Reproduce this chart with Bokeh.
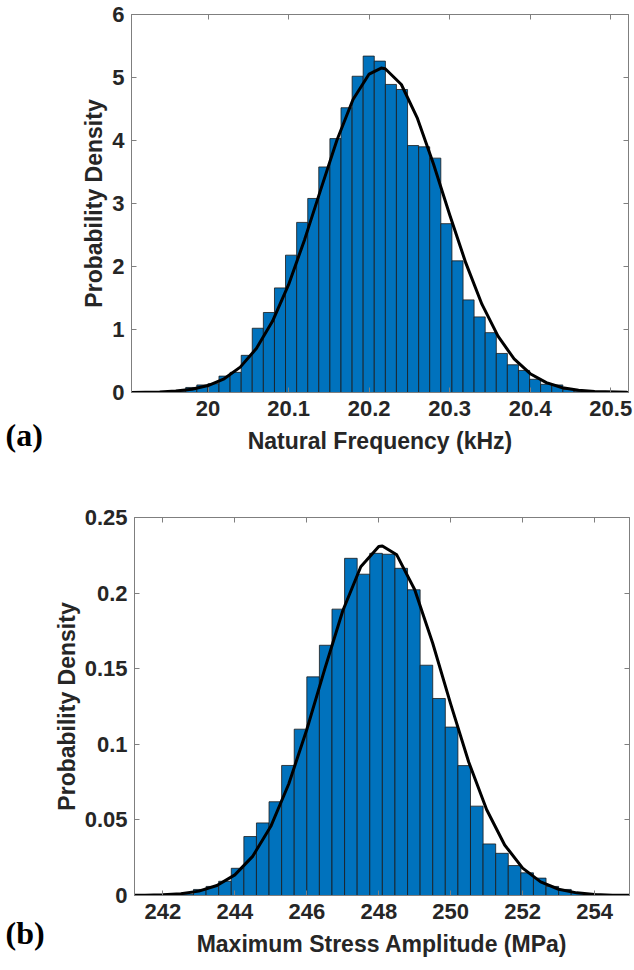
from bokeh.plotting import figure
from bokeh.layouts import column, row
from bokeh.models import Range1d, LinearAxis, FixedTicker, NumeralTickFormatter, Title
from bokeh.embed import file_html
from bokeh.resources import INLINE

# ---------------- Panel (a): natural frequency ----------------
freq_edges = [19.9585, 19.9723, 19.9861, 19.9998, 20.0136, 20.0274, 20.0412, 20.0549,
              20.0687, 20.0825, 20.0962, 20.1100, 20.1238, 20.1375, 20.1513, 20.1651,
              20.1789, 20.1926, 20.2064, 20.2202, 20.2339, 20.2477, 20.2615, 20.2752,
              20.2890, 20.3028, 20.3166, 20.3303, 20.3441, 20.3579, 20.3716, 20.3854,
              20.3992, 20.4129, 20.4267, 20.4405, 20.4543, 20.4680]
freq_density = [0.02, 0.08, 0.12, 0.14, 0.26, 0.32, 0.59, 1.02, 1.27, 1.66, 2.18, 2.70,
                3.08, 3.58, 4.03, 4.52, 5.02, 5.34, 5.26, 4.89, 4.81, 3.92, 3.90, 3.72,
                2.68, 2.09, 1.47, 1.20, 0.95, 0.62, 0.44, 0.35, 0.21, 0.13, 0.12, 0.05, 0.02]
freq_fit_x = [19.90, 19.94, 19.96, 19.98, 20.00, 20.02, 20.04, 20.06, 20.08, 20.10, 20.12,
              20.14, 20.16, 20.18, 20.20, 20.215, 20.22, 20.24, 20.26, 20.28, 20.30, 20.32,
              20.34, 20.36, 20.38, 20.40, 20.42, 20.44, 20.46, 20.48, 20.52]
freq_fit_y = [0.001, 0.009, 0.023, 0.052, 0.110, 0.217, 0.403, 0.697, 1.130, 1.712, 2.430,
              3.224, 4.004, 4.650, 5.055, 5.150, 5.139, 4.889, 4.351, 3.623, 2.822, 2.057,
              1.402, 0.895, 0.534, 0.298, 0.156, 0.076, 0.035, 0.015, 0.002]
freq_xticks = [20.0, 20.1, 20.2, 20.3, 20.4, 20.5]
freq_yticks = [0, 1, 2, 3, 4, 5, 6]

# ---------------- Panel (b): maximum stress amplitude ----------------
stress_edges = [242.50, 242.85, 243.20, 243.55, 243.90, 244.25, 244.60, 244.95, 245.30,
                245.65, 246.00, 246.35, 246.70, 247.05, 247.40, 247.75, 248.10, 248.45,
                248.80, 249.15, 249.50, 249.85, 250.20, 250.55, 250.90, 251.25, 251.60,
                251.95, 252.30, 252.65, 253.00, 253.35, 253.70, 254.05]
stress_density = [0.001, 0.004, 0.006, 0.0094, 0.018, 0.039, 0.048, 0.062, 0.086, 0.110,
                  0.1446, 0.1655, 0.1894, 0.2230, 0.2125, 0.2263, 0.2257, 0.2164, 0.2022,
                  0.1523, 0.1303, 0.1114, 0.0859, 0.0591, 0.0341, 0.0279, 0.0198, 0.015,
                  0.0115, 0.006, 0.004, 0.002, 0.001]
stress_fit_x = [241.2, 241.5, 242.0, 242.5, 243.0, 243.5, 244.0, 244.5, 245.0, 245.5, 246.0,
                246.5, 247.0, 247.5, 248.0, 248.1, 248.5, 249.0, 249.5, 250.0, 250.5, 251.0,
                251.5, 252.0, 252.5, 253.0, 253.5, 254.0, 254.5, 255.0]
stress_fit_y = [0.0001, 0.00015, 0.00044, 0.00118, 0.0029, 0.0066, 0.01363, 0.02606, 0.04575,
                0.0739, 0.1098, 0.1499, 0.1883, 0.2174, 0.2308, 0.2312, 0.2253, 0.2022, 0.1668,
                0.1266, 0.0883, 0.0567, 0.0334, 0.01812, 0.00904, 0.00414, 0.00175, 0.00068,
                0.00024, 0.00008]
stress_xticks = [242, 244, 246, 248, 250, 252, 254]
stress_yticks = [0, 0.05, 0.1, 0.15, 0.2, 0.25]

panel_tags = ["(a)", "(b)"]

BAR_FILL = "#0072BD"
AXIS_GRAY = "#7f7f7f"
TXT = "#262626"
SANS = "Liberation Sans"
TAG_W = 50


def make_tag(tag, height, standoff):
    t = figure(width=TAG_W, height=height, output_backend="svg", toolbar_location=None,
               x_range=Range1d(0, 1), y_range=Range1d(0, 1),
               min_border_left=0, min_border_right=0, min_border_top=0, min_border_bottom=0)
    t.axis.visible = False
    t.grid.visible = False
    t.outline_line_color = None
    t.background_fill_color = "white"
    t.border_fill_color = "white"
    t.add_layout(Title(text=tag, align="left", vertical_align="bottom", offset=5,
                       standoff=standoff, text_font="Liberation Serif",
                       text_font_style="bold", text_font_size="32px",
                       text_color="black"), "below")
    return t


def make_panel(edges, dens, fx, fy, xr, yr, xticks, yticks, xfmt, yfmt, xlabel,
               height, border):
    left, right, top, bottom = border
    p = figure(width=634 - TAG_W, height=height, output_backend="svg", toolbar_location=None,
               x_range=Range1d(*xr), y_range=Range1d(*yr),
               min_border_left=left - TAG_W, min_border_right=right,
               min_border_top=top, min_border_bottom=bottom)
    p.xgrid.visible = False
    p.ygrid.visible = False
    p.background_fill_color = "white"
    p.border_fill_color = "white"
    p.outline_line_color = AXIS_GRAY
    p.outline_line_width = 1

    p.quad(left=edges[:-1], right=edges[1:], top=dens, bottom=0,
           fill_color=BAR_FILL, line_color="#1a1a1a", line_width=0.8)
    p.line(fx, fy, line_color="black", line_width=3, line_join="round", line_cap="round")

    for ax, ticks, fmt in ((p.xaxis[0], xticks, xfmt), (p.yaxis[0], yticks, yfmt)):
        ax.ticker = FixedTicker(ticks=ticks)
        ax.formatter = NumeralTickFormatter(format=fmt)
        ax.major_tick_in = 5
        ax.major_tick_out = 0
        ax.minor_tick_line_color = None
        ax.axis_line_color = AXIS_GRAY
        ax.major_tick_line_color = AXIS_GRAY
        ax.major_label_text_font = SANS
        ax.major_label_text_font_style = "bold"
        ax.major_label_text_font_size = "22px"
        ax.major_label_text_color = TXT
        ax.axis_label_text_font = SANS
        ax.axis_label_text_font_style = "bold"
        ax.axis_label_text_font_size = "23px"
        ax.axis_label_text_color = TXT
    p.xaxis[0].axis_label = xlabel
    p.yaxis[0].axis_label = "Probability Density"
    p.xaxis[0].major_label_standoff = 8
    p.xaxis[0].axis_label_standoff = 9
    p.yaxis[0].major_label_standoff = 7
    p.yaxis[0].axis_label_standoff = 2

    for side, ticks in (("above", xticks), ("right", yticks)):
        ax = LinearAxis(ticker=FixedTicker(ticks=ticks), major_tick_in=5, major_tick_out=0,
                        minor_tick_line_color=None, axis_line_color=AXIS_GRAY,
                        major_tick_line_color=AXIS_GRAY, major_label_text_font_size="0px",
                        major_label_standoff=0)
        p.add_layout(ax, side)
    return p


pa = make_panel(freq_edges, freq_density, freq_fit_x, freq_fit_y,
                (19.905, 20.522), (0, 6), freq_xticks, freq_yticks, "0.[0]", "0",
                "Natural Frequency (kHz)", 480, (131, 6, 14, 88))
pb = make_panel(stress_edges, stress_density, stress_fit_x, stress_fit_y,
                (241.21, 254.97), (0, 0.25), stress_xticks, stress_yticks, "0", "0.[00]",
                "Maximum Stress Amplitude (MPa)", 490, (133, 5, 37, 75))
ta = make_tag(panel_tags[0], 480, 44)
tb = make_tag(panel_tags[1], 490, 35)

layout = column(row(ta, pa, spacing=0), row(tb, pb, spacing=0), spacing=0)
open("out.html", "w").write(file_html(layout, INLINE))
